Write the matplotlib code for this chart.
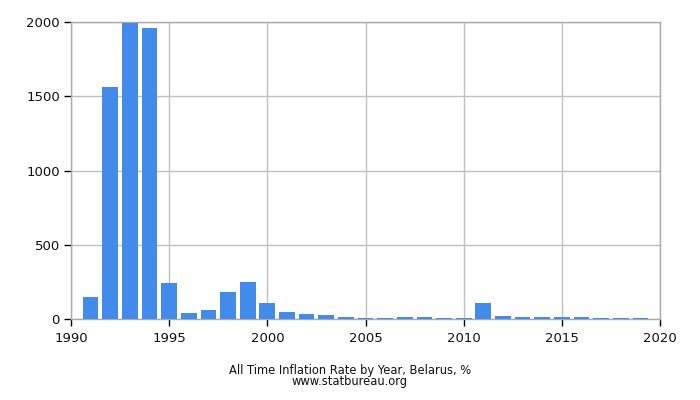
import matplotlib
matplotlib.use("Agg")
import matplotlib.pyplot as plt

years = list(range(1991, 2020))
inflation = [150, 1559, 1996, 1960, 244, 39.3, 63.1, 181.7, 251.3, 107.5,
             46.1, 34.8, 25.4, 14.4, 8.0, 6.6, 12.1, 13.3, 10.1, 9.9,
             108.7, 21.8, 16.5, 16.2, 12.0, 10.6, 4.6, 5.6, 4.7]
xticks = [1990, 1995, 2000, 2005, 2010, 2015, 2020]
yticks = [0, 500, 1000, 1500, 2000]
title = "All Time Inflation Rate by Year, Belarus, %"
source = "www.statbureau.org"

fig = plt.figure(figsize=(7, 4), dpi=100)
ax = fig.add_axes([71/700, 81/400, 589/700, 297/400])
ax.bar(years, inflation, width=0.8, color="#428bea", zorder=3)
ax.set_xlim(1990, 2020)
ax.set_ylim(0, 2000)
ax.set_xticks(xticks)
ax.set_yticks(yticks)
ax.grid(True, color="#c0c0c0", linewidth=1, zorder=0)
for s in ax.spines.values():
    s.set_color("#aaaaaa")
    s.set_linewidth(1)
ax.tick_params(axis="both", direction="out", length=5, color="#000000",
               labelsize=9.5, labelcolor="#111111", width=1)
ax.tick_params(axis="x", pad=4)
ax.tick_params(axis="y", pad=3)
fig.text(350/700, 1 - 376/400, title + "\n" + source, ha="center", va="center",
         fontsize=8.3, color="#111111", linespacing=0.85, multialignment="center")
fig.savefig("out.png", dpi=100)
